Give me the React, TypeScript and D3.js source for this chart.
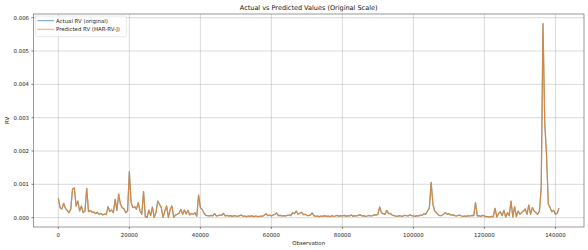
import React from "react";
import * as d3 from "d3";

// Observation index step between samples
const OBS_STEP = 500;
const UNIT = 1e-4;

// Actual RV (original), in units of 1e-4
const actualRV: number[] = [
  5.8, 3.0, 2.6, 4.3, 2.8, 2.2, 1.5, 2.5, 8.6, 8.9, 3.5, 5.0, 2.0, 3.5, 1.5, 2.0, 8.8, 1.8, 2.2, 1.6,
  1.7, 1.2, 1.6, 1.0, 1.3, 0.8, 1.1, 0.9, 3.3, 1.8, 2.3, 1.5, 5.5, 2.2, 7.1, 4.0, 3.0, 2.6, 1.5, 2.0,
  13.8, 4.5, 3.0, 3.3, 2.5, 4.5, 2.0, 1.0, 7.8, 0.3, 0.1, 2.3, 0.6, 3.2, 0.1, 1.5, 5.0, 4.0, 3.0, 0.1,
  2.0, 3.5, 0.1, 2.5, 3.5, 0.1, 0.8, 1.0, 1.3, 2.5, 1.0, 2.3, 1.1, 2.2, 0.8, 1.3, 1.0, 1.5, 0.4, 6.8,
  3.0, 2.5, 1.4, 0.7, 0.6, 0.5, 0.7, 0.5, 1.2, 0.5, 0.6, 0.8, 0.7, 1.3, 0.5, 0.7, 0.5, 0.6, 0.4, 0.6,
  0.5, 0.4, 0.6, 0.8, 0.4, 0.5, 0.3, 0.5, 0.4, 0.6, 0.3, 0.5, 0.4, 0.3, 0.5, 0.4, 0.7, 1.2, 0.6, 0.8,
  0.5, 0.8, 1.0, 1.4, 0.6, 0.7, 0.5, 0.6, 0.5, 0.7, 0.8, 0.6, 1.5, 1.2, 2.0, 1.0, 1.3, 1.6, 0.9, 1.0,
  0.7, 0.6, 0.8, 1.4, 0.6, 0.4, 0.5, 0.3, 0.5, 0.4, 0.6, 0.4, 0.5, 0.3, 0.6, 0.4, 0.5, 0.7, 0.4, 0.6,
  0.5, 0.7, 0.4, 0.6, 0.5, 0.8, 0.4, 0.6, 0.5, 0.7, 0.9, 0.5, 0.6, 0.4, 0.5, 0.7, 0.5, 0.6, 0.9, 0.7,
  1.0, 3.2, 1.5, 1.2, 1.0, 2.2, 1.2, 1.3, 0.8, 0.6, 0.5, 0.4, 0.6, 0.5, 0.4, 0.7, 0.6, 0.5, 0.9, 0.6,
  0.5, 0.4, 0.6, 0.5, 0.8, 0.7, 1.2, 1.0, 2.0, 3.0, 10.6, 4.0, 2.0, 1.5, 0.8, 0.6, 0.7, 1.0, 1.5, 1.0,
  1.2, 0.8, 0.9, 0.7, 0.5, 0.6, 0.8, 0.5, 0.4, 0.5, 0.4, 0.6, 0.5, 0.7, 0.6, 4.5, 0.5, 0.6, 0.4, 0.7,
  0.5, 0.3, 0.3, 0.2, 0.4, 0.3, 2.8, 0.2, 1.2, 1.8, 0.6, 2.2, 0.2, 1.5, 0.6, 5.0, 0.2, 3.3, 0.3, 2.0,
  1.0, 1.5, 2.0, 2.6, 1.0, 3.8, 1.0, 3.0, 2.0, 1.5, 1.0, 2.0, 9.0, 58.2, 28.3, 18.8, 4.0, 3.0, 1.8, 2.2,
  1.0, 1.3, 2.8,
];

// Predicted RV (HAR-RV-J), in units of 1e-4
const predictedRV: number[] = [
  5.8, 3.0, 2.6, 4.3, 2.8, 2.2, 1.5, 2.5, 8.6, 8.9, 3.5, 5.0, 2.0, 3.5, 1.5, 2.0, 8.8, 1.8, 2.2, 1.6,
  1.7, 1.2, 1.6, 1.0, 1.3, 0.8, 1.1, 0.9, 3.3, 1.8, 2.3, 1.5, 5.5, 2.2, 7.1, 4.0, 3.0, 2.6, 1.5, 2.0,
  13.8, 4.5, 3.0, 3.3, 2.5, 4.5, 2.0, 1.0, 7.8, 0.3, 0.1, 2.3, 0.6, 3.2, 0.1, 1.5, 5.0, 4.0, 3.0, 0.1,
  2.0, 3.5, 0.1, 2.5, 3.5, 0.1, 0.8, 1.0, 1.3, 2.5, 1.0, 2.3, 1.1, 2.2, 0.8, 1.3, 1.0, 1.5, 0.4, 6.8,
  3.0, 2.5, 1.4, 0.7, 0.6, 0.5, 0.7, 0.5, 1.2, 0.5, 0.6, 0.8, 0.7, 1.3, 0.5, 0.7, 0.5, 0.6, 0.4, 0.6,
  0.5, 0.4, 0.6, 0.8, 0.4, 0.5, 0.3, 0.5, 0.4, 0.6, 0.3, 0.5, 0.4, 0.3, 0.5, 0.4, 0.7, 1.2, 0.6, 0.8,
  0.5, 0.8, 1.0, 1.4, 0.6, 0.7, 0.5, 0.6, 0.5, 0.7, 0.8, 0.6, 1.5, 1.2, 2.0, 1.0, 1.3, 1.6, 0.9, 1.0,
  0.7, 0.6, 0.8, 1.4, 0.6, 0.4, 0.5, 0.3, 0.5, 0.4, 0.6, 0.4, 0.5, 0.3, 0.6, 0.4, 0.5, 0.7, 0.4, 0.6,
  0.5, 0.7, 0.4, 0.6, 0.5, 0.8, 0.4, 0.6, 0.5, 0.7, 0.9, 0.5, 0.6, 0.4, 0.5, 0.7, 0.5, 0.6, 0.9, 0.7,
  1.0, 3.2, 1.5, 1.2, 1.0, 2.2, 1.2, 1.3, 0.8, 0.6, 0.5, 0.4, 0.6, 0.5, 0.4, 0.7, 0.6, 0.5, 0.9, 0.6,
  0.5, 0.4, 0.6, 0.5, 0.8, 0.7, 1.2, 1.0, 2.0, 3.0, 10.6, 4.0, 2.0, 1.5, 0.8, 0.6, 0.7, 1.0, 1.5, 1.0,
  1.2, 0.8, 0.9, 0.7, 0.5, 0.6, 0.8, 0.5, 0.4, 0.5, 0.4, 0.6, 0.5, 0.7, 0.6, 4.5, 0.5, 0.6, 0.4, 0.7,
  0.5, 0.3, 0.3, 0.2, 0.4, 0.3, 2.8, 0.2, 1.2, 1.8, 0.6, 2.2, 0.2, 1.5, 0.6, 5.0, 0.2, 3.3, 0.3, 2.0,
  1.0, 1.5, 2.0, 2.6, 1.0, 3.8, 1.0, 3.0, 2.0, 1.5, 1.0, 2.0, 9.0, 58.2, 28.3, 18.8, 4.0, 3.0, 1.8, 2.2,
  1.0, 1.3, 2.8,
];

const xTicks = [0, 20000, 40000, 60000, 80000, 100000, 120000, 140000];
const yTicks = [0, 0.001, 0.002, 0.003, 0.004, 0.005, 0.006];
const seriesNames = ["Actual RV (original)", "Predicted RV (HAR-RV-J)"];
const seriesColors = ["#1f77b4", "#ff7f0e"];

const W = 588;
const H = 250;
const M = { left: 33.3, right: 584, top: 14, bottom: 227 };
const FONT = "DejaVu Sans, sans-serif";

export default function App() {
  const n = actualRV.length;
  const obs = d3.range(n).map((i) => i * OBS_STEP);
  const xMaxData = obs[n - 1];
  const xPad = xMaxData * 0.05;
  const x = d3.scaleLinear().domain([-xPad, xMaxData + xPad]).range([M.left, M.right]);

  const all = [...actualRV, ...predictedRV].map((v) => v * UNIT);
  const [lo, hi] = d3.extent(all) as [number, number];
  const yPad = (hi - lo) * 0.05;
  const y = d3.scaleLinear().domain([lo - yPad, hi + yPad]).range([M.bottom, M.top]);

  const line = d3
    .line<number>()
    .x((_, i) => x(obs[i]))
    .y((v) => y(v * UNIT));

  const series = [actualRV, predictedRV];
  const cx = (M.left + M.right) / 2;

  return (
    <svg width={W} height={H} style={{ position: "absolute", left: 0, top: 0, background: "#fff" }} fontFamily={FONT}>
      <rect x={0} y={0} width={W} height={H} fill="#fff" />
      {/* grid */}
      {xTicks.map((t) => (
        <line key={"gx" + t} x1={x(t)} x2={x(t)} y1={M.top} y2={M.bottom} stroke="#b0b0b0" strokeOpacity={0.6} strokeWidth={0.8} />
      ))}
      {yTicks.map((t) => (
        <line key={"gy" + t} x1={M.left} x2={M.right} y1={y(t)} y2={y(t)} stroke="#b0b0b0" strokeOpacity={0.6} strokeWidth={0.8} />
      ))}
      {/* lines */}
      {series.map((s, k) => (
        <path key={k} d={line(s) || ""} fill="none" stroke={seriesColors[k]} strokeOpacity={0.7} strokeWidth={1.2} strokeLinejoin="round" />
      ))}
      {/* frame */}
      <rect x={M.left} y={M.top} width={M.right - M.left} height={M.bottom - M.top} fill="none" stroke="#555" strokeWidth={0.6} />
      {/* x axis */}
      {xTicks.map((t) => (
        <g key={"xt" + t}>
          <line x1={x(t)} x2={x(t)} y1={M.bottom} y2={M.bottom + 1.9} stroke="#333" strokeWidth={0.6} />
          <text x={x(t)} y={236.5} fontSize={5.4} textAnchor="middle" fill="#222">
            {String(t)}
          </text>
        </g>
      ))}
      {/* y axis */}
      {yTicks.map((t) => (
        <g key={"yt" + t}>
          <line x1={M.left - 1.9} x2={M.left} y1={y(t)} y2={y(t)} stroke="#333" strokeWidth={0.6} />
          <text x={29} y={y(t) + 1.9} fontSize={5.4} textAnchor="end" fill="#222">
            {d3.format(".3f")(t)}
          </text>
        </g>
      ))}
      <text x={cx} y={245} fontSize={5.4} textAnchor="middle" fill="#222">Observation</text>
      <text transform={`translate(8.6,${(M.top + M.bottom) / 2}) rotate(-90)`} fontSize={5.4} textAnchor="middle" fill="#222">RV</text>
      <text x={cx} y={10} fontSize={6.5} textAnchor="middle" fill="#111">Actual vs Predicted Values (Original Scale)</text>
      {/* legend */}
      <rect x={35.7} y={16} width={90.6} height={20.7} rx={1.2} fill="#fff" fillOpacity={0.8} stroke="#d0d0d0" strokeWidth={0.5} />
      {seriesNames.map((name, k) => (
        <g key={name}>
          <line x1={37.5} x2={54} y1={20.7 + k * 8.6} y2={20.7 + k * 8.6} stroke={seriesColors[k]} strokeOpacity={0.7} strokeWidth={1} />
          <text x={56} y={20.7 + k * 8.6 + 1.9} fontSize={5.4} fill="#222">{name}</text>
        </g>
      ))}
    </svg>
  );
}
